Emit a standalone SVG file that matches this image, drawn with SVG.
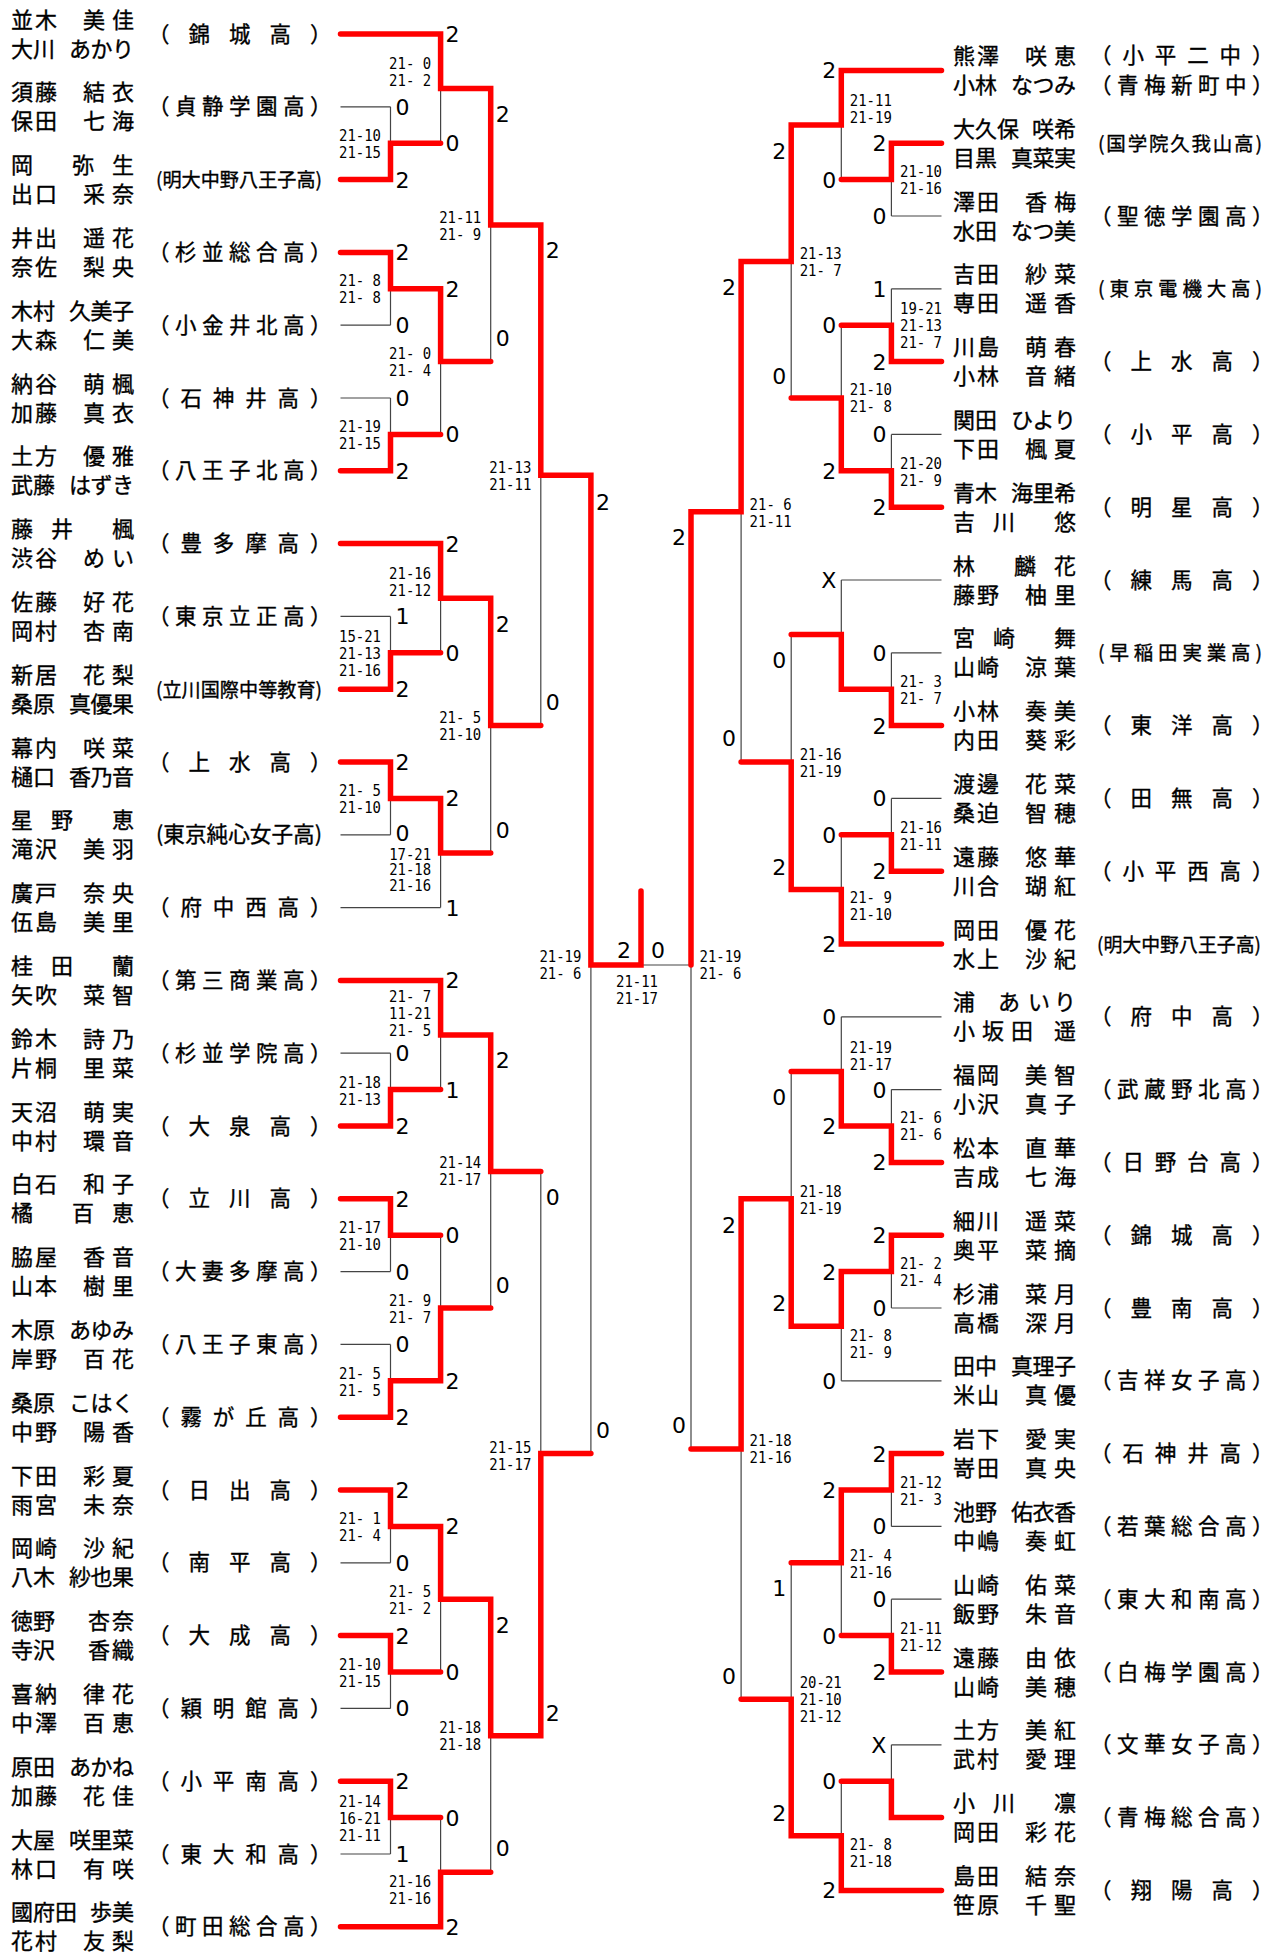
<svg xmlns="http://www.w3.org/2000/svg" width="1270" height="1952" viewBox="0 0 1270 1952">
<style>
.nm{font-family:"Noto Sans CJK JP","Noto Sans CJK SC",sans-serif;font-size:22px;fill:#000;stroke:#000;stroke-width:0.35px}
.lb{font-family:"Noto Sans CJK JP","Noto Sans CJK SC",sans-serif;font-size:21.5px;fill:#000;stroke:#000;stroke-width:0.35px}
.lg{font-family:"Noto Sans CJK JP","Noto Sans CJK SC",sans-serif;font-size:19.5px;fill:#000;stroke:#000;stroke-width:0.35px}
.b{font-family:"DejaVu Sans","Liberation Sans",sans-serif;font-size:22px;fill:#000}
.be{font-family:"DejaVu Sans","Liberation Sans",sans-serif;font-size:22px;fill:#000;text-anchor:end}
.s{font-family:"DejaVu Sans Mono","Liberation Mono",monospace;font-size:16.4px;fill:#000;text-anchor:end}
.ss{font-family:"DejaVu Sans Mono","Liberation Mono",monospace;font-size:16.4px;fill:#000}
.sm{font-family:"DejaVu Sans Mono","Liberation Mono",monospace;font-size:16.4px;fill:#000;text-anchor:middle}
.g{fill:none;stroke:#444;stroke-width:1.2}
.r{fill:none;stroke:#ff0000;stroke-width:5.5;stroke-linecap:round;stroke-linejoin:miter}
</style>
<rect width="1270" height="1952" fill="#fff"/>
<g id="connectors">
<path class="g" d="M340.5 106.8H390.5M340.5 325.2H390.5M340.5 398H390.5M340.5 616.4H390.5M340.5 834.8H390.5M340.5 907.6H440.6M340.5 1053.2H390.5M340.5 1271.6H390.5M340.5 1344.4H390.5M340.5 1562.8H390.5M340.5 1708.4H390.5M340.5 1854H390.5
M390.5 106.8V179.6M390.5 252.4V325.2M390.5 398V470.8M390.5 616.4V689.2M390.5 762V834.8M390.5 1053.2V1126M390.5 1198.8V1271.6M390.5 1344.4V1417.2M390.5 1490V1562.8M390.5 1635.6V1708.4M390.5 1781.2V1854
M440.6 34V143.2M440.6 288.8V434.4M440.6 543.6V652.8M440.6 798.4V907.6M440.6 980.4V1089.6M440.6 1235.2V1380.8M440.6 1526.4V1672M440.6 1817.6V1926.8
M490.7 88.6V361.6M490.7 598.2V853M490.7 1035V1308M490.7 1599.2V1872.2
M540.8 225.1V725.6M540.8 1171.5V1735.7M590.9 475.35V1453.6M641 965H691"/>
<path class="g" d="M941.5 216H891.4M941.5 288.8H891.4M941.5 434.4H891.4M941.5 580H841.3M941.5 652.8H891.4M941.5 798.4H891.4M941.5 1016.8H841.3M941.5 1089.6H891.4M941.5 1308H891.4M941.5 1380.8H841.3M941.5 1526.4H891.4M941.5 1599.2H891.4M941.5 1744.8H891.4
M891.4 143.2V216M891.4 288.8V361.6M891.4 434.4V507.2M891.4 652.8V725.6M891.4 798.4V871.2M891.4 1089.6V1162.4M891.4 1235.2V1308M891.4 1453.6V1526.4M891.4 1599.2V1672M891.4 1744.8V1817.6
M841.3 70.4V179.6M841.3 325.2V470.8M841.3 580V689.2M841.3 834.8V944M841.3 1016.8V1126M841.3 1271.6V1380.8M841.3 1490V1635.6M841.3 1781.2V1890.4
M791.2 125V398M791.2 634.6V889.4M791.2 1071.4V1326.2M791.2 1562.8V1835.8
M741.1 261.5V762M741.1 1198.8V1699.3M691 511.75V1449"/>
<path class="r" d="M340.5 34H440.6V88.6H490.7V225.1H540.8V475.35H590.9V965H641V891"/>
<path class="r" d="M340.5 179.6H390.5V143.2H440.6"/>
<path class="r" d="M340.5 252.4H390.5V288.8H440.6V361.6H490.7"/>
<path class="r" d="M340.5 470.8H390.5V434.4H440.6"/>
<path class="r" d="M340.5 543.6H440.6V598.2H490.7V725.6H540.8"/>
<path class="r" d="M340.5 689.2H390.5V652.8H440.6"/>
<path class="r" d="M340.5 762H390.5V798.4H440.6V853H490.7"/>
<path class="r" d="M340.5 980.4H440.6V1035H490.7V1171.5H540.8"/>
<path class="r" d="M340.5 1126H390.5V1089.6H440.6"/>
<path class="r" d="M340.5 1198.8H390.5V1235.2H440.6"/>
<path class="r" d="M340.5 1417.2H390.5V1380.8H440.6V1308H490.7"/>
<path class="r" d="M340.5 1490H390.5V1526.4H440.6V1599.2H490.7V1735.7H540.8V1453.6H590.9"/>
<path class="r" d="M340.5 1635.6H390.5V1672H440.6"/>
<path class="r" d="M340.5 1781.2H390.5V1817.6H440.6"/>
<path class="r" d="M340.5 1926.8H440.6V1872.2H490.7"/>
<path class="r" d="M941.5 70.4H841.3V125H791.2V261.5H741.1V511.75H691V965"/>
<path class="r" d="M941.5 143.2H891.4V179.6H841.3"/>
<path class="r" d="M941.5 361.6H891.4V325.2H841.3"/>
<path class="r" d="M941.5 507.2H891.4V470.8H841.3V398H791.2"/>
<path class="r" d="M941.5 725.6H891.4V689.2H841.3V634.6H791.2"/>
<path class="r" d="M941.5 871.2H891.4V834.8H841.3"/>
<path class="r" d="M941.5 944H841.3V889.4H791.2V762H741.1"/>
<path class="r" d="M941.5 1162.4H891.4V1126H841.3V1071.4H791.2"/>
<path class="r" d="M941.5 1235.2H891.4V1271.6H841.3V1326.2H791.2V1198.8H741.1V1449H691"/>
<path class="r" d="M941.5 1453.6H891.4V1490H841.3V1562.8H791.2"/>
<path class="r" d="M941.5 1672H891.4V1635.6H841.3"/>
<path class="r" d="M941.5 1817.6H891.4V1781.2H841.3"/>
<path class="r" d="M941.5 1890.4H841.3V1835.8H791.2V1699.3H741.1"/>
</g>
<g id="scores">
<text class="b" x="395.5" y="114.8">0</text><text class="b" x="395.5" y="187.6">2</text><text class="b" x="395.5" y="260.4">2</text><text class="b" x="395.5" y="333.2">0</text><text class="b" x="395.5" y="406">0</text><text class="b" x="395.5" y="478.8">2</text><text class="b" x="395.5" y="624.4">1</text><text class="b" x="395.5" y="697.2">2</text><text class="b" x="395.5" y="770">2</text><text class="b" x="395.5" y="840.8">0</text><text class="b" x="395.5" y="1061.2">0</text><text class="b" x="395.5" y="1134">2</text><text class="b" x="395.5" y="1206.8">2</text><text class="b" x="395.5" y="1279.6">0</text><text class="b" x="395.5" y="1352.4">0</text><text class="b" x="395.5" y="1425.2">2</text><text class="b" x="395.5" y="1498">2</text><text class="b" x="395.5" y="1570.8">0</text><text class="b" x="395.5" y="1643.6">2</text><text class="b" x="395.5" y="1716.4">0</text><text class="b" x="395.5" y="1789.2">2</text><text class="b" x="395.5" y="1862">1</text>
<text class="b" x="445.6" y="42">2</text><text class="b" x="445.6" y="151.2">0</text><text class="b" x="445.6" y="296.8">2</text><text class="b" x="445.6" y="442.4">0</text><text class="b" x="445.6" y="551.6">2</text><text class="b" x="445.6" y="660.8">0</text><text class="b" x="445.6" y="806.4">2</text><text class="b" x="445.6" y="915.6">1</text><text class="b" x="445.6" y="988.4">2</text><text class="b" x="445.6" y="1097.6">1</text><text class="b" x="445.6" y="1243.2">0</text><text class="b" x="445.6" y="1388.8">2</text><text class="b" x="445.6" y="1534.4">2</text><text class="b" x="445.6" y="1680">0</text><text class="b" x="445.6" y="1825.6">0</text><text class="b" x="445.6" y="1934.8">2</text>
<text class="b" x="495.7" y="122">2</text><text class="b" x="495.7" y="346">0</text><text class="b" x="495.7" y="632">2</text><text class="b" x="495.7" y="838">0</text><text class="b" x="495.7" y="1068">2</text><text class="b" x="495.7" y="1293">0</text><text class="b" x="495.7" y="1633">2</text><text class="b" x="495.7" y="1856">0</text>
<text class="b" x="545.8" y="258">2</text><text class="b" x="545.8" y="710">0</text><text class="b" x="545.8" y="1205">0</text><text class="b" x="545.8" y="1721">2</text>
<text class="b" x="595.9" y="510">2</text><text class="b" x="595.9" y="1438">0</text>
<text class="be" x="631" y="958">2</text><text class="b" x="651" y="958">0</text>
<text class="be" x="886.4" y="151.2">2</text><text class="be" x="886.4" y="224">0</text><text class="be" x="886.4" y="296.8">1</text><text class="be" x="886.4" y="369.6">2</text><text class="be" x="886.4" y="442.4">0</text><text class="be" x="886.4" y="515.2">2</text><text class="be" x="886.4" y="660.8">0</text><text class="be" x="886.4" y="733.6">2</text><text class="be" x="886.4" y="806.4">0</text><text class="be" x="886.4" y="879.2">2</text><text class="be" x="886.4" y="1097.6">0</text><text class="be" x="886.4" y="1170.4">2</text><text class="be" x="886.4" y="1243.2">2</text><text class="be" x="886.4" y="1316">0</text><text class="be" x="886.4" y="1461.6">2</text><text class="be" x="886.4" y="1534.4">0</text><text class="be" x="886.4" y="1607.2">0</text><text class="be" x="886.4" y="1680">2</text><text class="be" x="886.4" y="1752.8">X</text>
<text class="be" x="836.3" y="78.4">2</text><text class="be" x="836.3" y="187.6">0</text><text class="be" x="836.3" y="333.2">0</text><text class="be" x="836.3" y="478.8">2</text><text class="be" x="836.3" y="588">X</text><text class="be" x="836.3" y="842.8">0</text><text class="be" x="836.3" y="952">2</text><text class="be" x="836.3" y="1024.8">0</text><text class="be" x="836.3" y="1134">2</text><text class="be" x="836.3" y="1279.6">2</text><text class="be" x="836.3" y="1388.8">0</text><text class="be" x="836.3" y="1498">2</text><text class="be" x="836.3" y="1643.6">0</text><text class="be" x="836.3" y="1789.2">0</text><text class="be" x="836.3" y="1898.4">2</text>
<text class="be" x="786.2" y="159">2</text><text class="be" x="786.2" y="384">0</text><text class="be" x="786.2" y="668">0</text><text class="be" x="786.2" y="875">2</text><text class="be" x="786.2" y="1105">0</text><text class="be" x="786.2" y="1311">2</text><text class="be" x="786.2" y="1596">1</text><text class="be" x="786.2" y="1821">2</text>
<text class="be" x="736.1" y="295">2</text><text class="be" x="736.1" y="746">0</text><text class="be" x="736.1" y="1233">2</text><text class="be" x="736.1" y="1684">0</text>
<text class="be" x="686" y="545">2</text><text class="be" x="686" y="1433">0</text>
</g>
<g id="setscores">
<text class="s" transform="translate(381,0) scale(0.851,1)"><tspan x="0" y="141.5">21-10</tspan><tspan x="0" y="158.5">21-15</tspan></text>
<text class="s" transform="translate(381,0) scale(0.851,1)"><tspan x="0" y="286.5">21- 8</tspan><tspan x="0" y="303.5">21- 8</tspan></text>
<text class="s" transform="translate(381,0) scale(0.851,1)"><tspan x="0" y="432.5">21-19</tspan><tspan x="0" y="449.5">21-15</tspan></text>
<text class="s" transform="translate(381,0) scale(0.851,1)"><tspan x="0" y="642.5">15-21</tspan><tspan x="0" y="659.5">21-13</tspan><tspan x="0" y="676.5">21-16</tspan></text>
<text class="s" transform="translate(381,0) scale(0.851,1)"><tspan x="0" y="796.5">21- 5</tspan><tspan x="0" y="813.5">21-10</tspan></text>
<text class="s" transform="translate(381,0) scale(0.851,1)"><tspan x="0" y="1087.75">21-18</tspan><tspan x="0" y="1104.75">21-13</tspan></text>
<text class="s" transform="translate(381,0) scale(0.851,1)"><tspan x="0" y="1233">21-17</tspan><tspan x="0" y="1250">21-10</tspan></text>
<text class="s" transform="translate(381,0) scale(0.851,1)"><tspan x="0" y="1379">21- 5</tspan><tspan x="0" y="1396">21- 5</tspan></text>
<text class="s" transform="translate(381,0) scale(0.851,1)"><tspan x="0" y="1524.5">21- 1</tspan><tspan x="0" y="1541.5">21- 4</tspan></text>
<text class="s" transform="translate(381,0) scale(0.851,1)"><tspan x="0" y="1670.5">21-10</tspan><tspan x="0" y="1687.5">21-15</tspan></text>
<text class="s" transform="translate(381,0) scale(0.851,1)"><tspan x="0" y="1807.5">21-14</tspan><tspan x="0" y="1824.5">16-21</tspan><tspan x="0" y="1841.5">21-11</tspan></text>
<text class="s" transform="translate(431.1,0) scale(0.851,1)"><tspan x="0" y="69.5">21- 0</tspan><tspan x="0" y="86.5">21- 2</tspan></text>
<text class="s" transform="translate(431.1,0) scale(0.851,1)"><tspan x="0" y="359.5">21- 0</tspan><tspan x="0" y="376.5">21- 4</tspan></text>
<text class="s" transform="translate(431.1,0) scale(0.851,1)"><tspan x="0" y="579">21-16</tspan><tspan x="0" y="596">21-12</tspan></text>
<text class="s" style="font-size:15px" transform="translate(431.1,0) scale(0.93,1)"><tspan x="0" y="860">17-21</tspan><tspan x="0" y="875.5">21-18</tspan><tspan x="0" y="891">21-16</tspan></text>
<text class="s" transform="translate(431.1,0) scale(0.851,1)"><tspan x="0" y="1002.5">21- 7</tspan><tspan x="0" y="1019.5">11-21</tspan><tspan x="0" y="1036.5">21- 5</tspan></text>
<text class="s" transform="translate(431.1,0) scale(0.851,1)"><tspan x="0" y="1306.5">21- 9</tspan><tspan x="0" y="1323.5">21- 7</tspan></text>
<text class="s" transform="translate(431.1,0) scale(0.851,1)"><tspan x="0" y="1597">21- 5</tspan><tspan x="0" y="1614">21- 2</tspan></text>
<text class="s" transform="translate(431.1,0) scale(0.851,1)"><tspan x="0" y="1887">21-16</tspan><tspan x="0" y="1904">21-16</tspan></text>
<text class="s" transform="translate(481.2,0) scale(0.851,1)"><tspan x="0" y="223">21-11</tspan><tspan x="0" y="240">21- 9</tspan></text>
<text class="s" transform="translate(481.2,0) scale(0.851,1)"><tspan x="0" y="723.5">21- 5</tspan><tspan x="0" y="740.5">21-10</tspan></text>
<text class="s" transform="translate(481.2,0) scale(0.851,1)"><tspan x="0" y="1168.5">21-14</tspan><tspan x="0" y="1185.5">21-17</tspan></text>
<text class="s" transform="translate(481.2,0) scale(0.851,1)"><tspan x="0" y="1733.5">21-18</tspan><tspan x="0" y="1750.5">21-18</tspan></text>
<text class="s" transform="translate(531.3,0) scale(0.851,1)"><tspan x="0" y="473">21-13</tspan><tspan x="0" y="490">21-11</tspan></text>
<text class="s" transform="translate(531.3,0) scale(0.851,1)"><tspan x="0" y="1453">21-15</tspan><tspan x="0" y="1470">21-17</tspan></text>
<text class="s" transform="translate(581.4,0) scale(0.851,1)"><tspan x="0" y="962.5">21-19</tspan><tspan x="0" y="979.5">21- 6</tspan></text>
<text class="sm" transform="translate(637,0) scale(0.851,1)"><tspan x="0" y="987">21-11</tspan><tspan x="0" y="1004">21-17</tspan></text>
<text class="ss" transform="translate(699.5,0) scale(0.851,1)"><tspan x="0" y="962.5">21-19</tspan><tspan x="0" y="979.5">21- 6</tspan></text>
<text class="ss" transform="translate(749.6,0) scale(0.851,1)"><tspan x="0" y="510">21- 6</tspan><tspan x="0" y="527">21-11</tspan></text>
<text class="ss" transform="translate(749.6,0) scale(0.851,1)"><tspan x="0" y="1446.5">21-18</tspan><tspan x="0" y="1463.5">21-16</tspan></text>
<text class="ss" transform="translate(799.7,0) scale(0.851,1)"><tspan x="0" y="259">21-13</tspan><tspan x="0" y="276">21- 7</tspan></text>
<text class="ss" transform="translate(799.7,0) scale(0.851,1)"><tspan x="0" y="760.5">21-16</tspan><tspan x="0" y="777.5">21-19</tspan></text>
<text class="ss" transform="translate(799.7,0) scale(0.851,1)"><tspan x="0" y="1197">21-18</tspan><tspan x="0" y="1214">21-19</tspan></text>
<text class="ss" transform="translate(799.7,0) scale(0.851,1)"><tspan x="0" y="1688.5">20-21</tspan><tspan x="0" y="1705.5">21-10</tspan><tspan x="0" y="1722.5">21-12</tspan></text>
<text class="ss" transform="translate(849.8,0) scale(0.851,1)"><tspan x="0" y="106.5">21-11</tspan><tspan x="0" y="123.5">21-19</tspan></text>
<text class="ss" transform="translate(849.8,0) scale(0.851,1)"><tspan x="0" y="395.5">21-10</tspan><tspan x="0" y="412.5">21- 8</tspan></text>
<text class="ss" transform="translate(849.8,0) scale(0.851,1)"><tspan x="0" y="903.5">21- 9</tspan><tspan x="0" y="920.5">21-10</tspan></text>
<text class="ss" transform="translate(849.8,0) scale(0.851,1)"><tspan x="0" y="1053">21-19</tspan><tspan x="0" y="1070">21-17</tspan></text>
<text class="ss" transform="translate(849.8,0) scale(0.851,1)"><tspan x="0" y="1341.5">21- 8</tspan><tspan x="0" y="1358.5">21- 9</tspan></text>
<text class="ss" transform="translate(849.8,0) scale(0.851,1)"><tspan x="0" y="1561">21- 4</tspan><tspan x="0" y="1578">21-16</tspan></text>
<text class="ss" transform="translate(849.8,0) scale(0.851,1)"><tspan x="0" y="1850.5">21- 8</tspan><tspan x="0" y="1867.5">21-18</tspan></text>
<text class="ss" transform="translate(900,0) scale(0.851,1)"><tspan x="0" y="177">21-10</tspan><tspan x="0" y="194">21-16</tspan></text>
<text class="ss" transform="translate(900,0) scale(0.851,1)"><tspan x="0" y="314.5">19-21</tspan><tspan x="0" y="331.5">21-13</tspan><tspan x="0" y="348.5">21- 7</tspan></text>
<text class="ss" transform="translate(900,0) scale(0.851,1)"><tspan x="0" y="469">21-20</tspan><tspan x="0" y="486">21- 9</tspan></text>
<text class="ss" transform="translate(900,0) scale(0.851,1)"><tspan x="0" y="687.5">21- 3</tspan><tspan x="0" y="704.5">21- 7</tspan></text>
<text class="ss" transform="translate(900,0) scale(0.851,1)"><tspan x="0" y="833">21-16</tspan><tspan x="0" y="850">21-11</tspan></text>
<text class="ss" transform="translate(900,0) scale(0.851,1)"><tspan x="0" y="1123.5">21- 6</tspan><tspan x="0" y="1140.5">21- 6</tspan></text>
<text class="ss" transform="translate(900,0) scale(0.851,1)"><tspan x="0" y="1269.5">21- 2</tspan><tspan x="0" y="1286.5">21- 4</tspan></text>
<text class="ss" transform="translate(900,0) scale(0.851,1)"><tspan x="0" y="1488">21-12</tspan><tspan x="0" y="1505">21- 3</tspan></text>
<text class="ss" transform="translate(900,0) scale(0.851,1)"><tspan x="0" y="1634">21-11</tspan><tspan x="0" y="1651">21-12</tspan></text>
</g>
<g id="L00" transform="translate(0,34)"><text class="nm" x="11 35 83 112" y="-6.5">並木美佳</text><text class="nm" x="11 33 69 90.5 112" y="22.5">大川あかり</text><text class="lb" x="148 188.5 229 269.5 310" y="7.5">（錦城高）</text></g>
<g id="L01" transform="translate(0,106.8)"><text class="nm" x="11 35 83 112" y="-6.5">須藤結衣</text><text class="nm" x="11 35 83 112" y="22.5">保田七海</text><text class="lb" x="148 175 202 229 256 283 310" y="7.5">（貞静学園高）</text></g>
<g id="L02" transform="translate(0,179.6)"><text class="nm" x="11 72 112" y="-6.5">岡弥生</text><text class="nm" x="11 35 83 112" y="22.5">出口采奈</text><text class="lg" x="156" y="7.5" textLength="166" lengthAdjust="spacingAndGlyphs">(明大中野八王子高)</text></g>
<g id="L03" transform="translate(0,252.4)"><text class="nm" x="11 35 83 112" y="-6.5">井出遥花</text><text class="nm" x="11 35 83 112" y="22.5">奈佐梨央</text><text class="lb" x="148 175 202 229 256 283 310" y="7.5">（杉並総合高）</text></g>
<g id="L04" transform="translate(0,325.2)"><text class="nm" x="11 33 69 90.5 112" y="-6.5">木村久美子</text><text class="nm" x="11 35 83 112" y="22.5">大森仁美</text><text class="lb" x="148 175 202 229 256 283 310" y="7.5">（小金井北高）</text></g>
<g id="L05" transform="translate(0,398)"><text class="nm" x="11 35 83 112" y="-6.5">納谷萌楓</text><text class="nm" x="11 35 83 112" y="22.5">加藤真衣</text><text class="lb" x="148 180.4 212.8 245.2 277.6 310" y="7.5">（石神井高）</text></g>
<g id="L06" transform="translate(0,470.8)"><text class="nm" x="11 35 83 112" y="-6.5">土方優雅</text><text class="nm" x="11 33 69 90.5 112" y="22.5">武藤はずき</text><text class="lb" x="148 175 202 229 256 283 310" y="7.5">（八王子北高）</text></g>
<g id="L07" transform="translate(0,543.6)"><text class="nm" x="11 51 112" y="-6.5">藤井楓</text><text class="nm" x="11 35 83 112" y="22.5">渋谷めい</text><text class="lb" x="148 180.4 212.8 245.2 277.6 310" y="7.5">（豊多摩高）</text></g>
<g id="L08" transform="translate(0,616.4)"><text class="nm" x="11 35 83 112" y="-6.5">佐藤好花</text><text class="nm" x="11 35 83 112" y="22.5">岡村杏南</text><text class="lb" x="148 175 202 229 256 283 310" y="7.5">（東京立正高）</text></g>
<g id="L09" transform="translate(0,689.2)"><text class="nm" x="11 35 83 112" y="-6.5">新居花梨</text><text class="nm" x="11 33 69 90.5 112" y="22.5">桑原真優果</text><text class="lg" x="156" y="7.5" textLength="166" lengthAdjust="spacingAndGlyphs">(立川国際中等教育)</text></g>
<g id="L10" transform="translate(0,762)"><text class="nm" x="11 35 83 112" y="-6.5">幕内咲菜</text><text class="nm" x="11 33 69 90.5 112" y="22.5">樋口香乃音</text><text class="lb" x="148 188.5 229 269.5 310" y="7.5">（上水高）</text></g>
<g id="L11" transform="translate(0,834.8)"><text class="nm" x="11 51 112" y="-6.5">星野恵</text><text class="nm" x="11 35 83 112" y="22.5">滝沢美羽</text><text class="lb" x="156" y="7.5" textLength="166" lengthAdjust="spacingAndGlyphs">(東京純心女子高)</text></g>
<g id="L12" transform="translate(0,907.6)"><text class="nm" x="11 35 83 112" y="-6.5">廣戸奈央</text><text class="nm" x="11 35 83 112" y="22.5">伍島美里</text><text class="lb" x="148 180.4 212.8 245.2 277.6 310" y="7.5">（府中西高）</text></g>
<g id="L13" transform="translate(0,980.4)"><text class="nm" x="11 51 112" y="-6.5">桂田蘭</text><text class="nm" x="11 35 83 112" y="22.5">矢吹菜智</text><text class="lb" x="148 175 202 229 256 283 310" y="7.5">（第三商業高）</text></g>
<g id="L14" transform="translate(0,1053.2)"><text class="nm" x="11 35 83 112" y="-6.5">鈴木詩乃</text><text class="nm" x="11 35 83 112" y="22.5">片桐里菜</text><text class="lb" x="148 175 202 229 256 283 310" y="7.5">（杉並学院高）</text></g>
<g id="L15" transform="translate(0,1126)"><text class="nm" x="11 35 83 112" y="-6.5">天沼萌実</text><text class="nm" x="11 35 83 112" y="22.5">中村環音</text><text class="lb" x="148 188.5 229 269.5 310" y="7.5">（大泉高）</text></g>
<g id="L16" transform="translate(0,1198.8)"><text class="nm" x="11 35 83 112" y="-6.5">白石和子</text><text class="nm" x="11 72 112" y="22.5">橘百恵</text><text class="lb" x="148 188.5 229 269.5 310" y="7.5">（立川高）</text></g>
<g id="L17" transform="translate(0,1271.6)"><text class="nm" x="11 35 83 112" y="-6.5">脇屋香音</text><text class="nm" x="11 35 83 112" y="22.5">山本樹里</text><text class="lb" x="148 175 202 229 256 283 310" y="7.5">（大妻多摩高）</text></g>
<g id="L18" transform="translate(0,1344.4)"><text class="nm" x="11 33 69 90.5 112" y="-6.5">木原あゆみ</text><text class="nm" x="11 35 83 112" y="22.5">岸野百花</text><text class="lb" x="148 175 202 229 256 283 310" y="7.5">（八王子東高）</text></g>
<g id="L19" transform="translate(0,1417.2)"><text class="nm" x="11 33 69 90.5 112" y="-6.5">桑原こはく</text><text class="nm" x="11 35 83 112" y="22.5">中野陽香</text><text class="lb" x="148 180.4 212.8 245.2 277.6 310" y="7.5">（霧が丘高）</text></g>
<g id="L20" transform="translate(0,1490)"><text class="nm" x="11 35 83 112" y="-6.5">下田彩夏</text><text class="nm" x="11 35 83 112" y="22.5">雨宮未奈</text><text class="lb" x="148 188.5 229 269.5 310" y="7.5">（日出高）</text></g>
<g id="L21" transform="translate(0,1562.8)"><text class="nm" x="11 35 83 112" y="-6.5">岡崎沙紀</text><text class="nm" x="11 33 69 90.5 112" y="22.5">八木紗也果</text><text class="lb" x="148 188.5 229 269.5 310" y="7.5">（南平高）</text></g>
<g id="L22" transform="translate(0,1635.6)"><text class="nm" x="11 33 88 112" y="-6.5">徳野杏奈</text><text class="nm" x="11 33 88 112" y="22.5">寺沢香織</text><text class="lb" x="148 188.5 229 269.5 310" y="7.5">（大成高）</text></g>
<g id="L23" transform="translate(0,1708.4)"><text class="nm" x="11 35 83 112" y="-6.5">喜納律花</text><text class="nm" x="11 35 83 112" y="22.5">中澤百恵</text><text class="lb" x="148 180.4 212.8 245.2 277.6 310" y="7.5">（穎明館高）</text></g>
<g id="L24" transform="translate(0,1781.2)"><text class="nm" x="11 33 69 90.5 112" y="-6.5">原田あかね</text><text class="nm" x="11 35 83 112" y="22.5">加藤花佳</text><text class="lb" x="148 180.4 212.8 245.2 277.6 310" y="7.5">（小平南高）</text></g>
<g id="L25" transform="translate(0,1854)"><text class="nm" x="11 33 69 90.5 112" y="-6.5">大屋咲里菜</text><text class="nm" x="11 35 83 112" y="22.5">林口有咲</text><text class="lb" x="148 180.4 212.8 245.2 277.6 310" y="7.5">（東大和高）</text></g>
<g id="L26" transform="translate(0,1926.8)"><text class="nm" x="11 33 55 90 112" y="-6.5">國府田歩美</text><text class="nm" x="11 35 83 112" y="22.5">花村友梨</text><text class="lb" x="148 175 202 229 256 283 310" y="7.5">（町田総合高）</text></g>
<g id="R00" transform="translate(942,70.4)"><text class="nm" x="11 35 83 112" y="-6.5">熊澤咲恵</text><text class="nm" x="11 33 69 90.5 112" y="22.5">小林なつみ</text><text class="lb" x="148 180.4 212.8 245.2 277.6 310" y="-7">（小平二中）</text><text class="lb" x="148 175 202 229 256 283 310" y="22.5">（青梅新町中）</text></g>
<g id="R01" transform="translate(942,143.2)"><text class="nm" x="11 33 55 90 112" y="-6.5">大久保咲希</text><text class="nm" x="11 33 69 90.5 112" y="22.5">目黒真菜実</text><text class="lg" x="156" y="7.5" textLength="164" lengthAdjust="spacing">(国学院久我山高)</text></g>
<g id="R02" transform="translate(942,216)"><text class="nm" x="11 35 83 112" y="-6.5">澤田香梅</text><text class="nm" x="11 33 69 90.5 112" y="22.5">水田なつ美</text><text class="lb" x="148 175 202 229 256 283 310" y="7.5">（聖徳学園高）</text></g>
<g id="R03" transform="translate(942,288.8)"><text class="nm" x="11 35 83 112" y="-6.5">吉田紗菜</text><text class="nm" x="11 35 83 112" y="22.5">専田遥香</text><text class="lg" x="156" y="7.5" textLength="164" lengthAdjust="spacing">(東京電機大高)</text></g>
<g id="R04" transform="translate(942,361.6)"><text class="nm" x="11 35 83 112" y="-6.5">川島萌春</text><text class="nm" x="11 35 83 112" y="22.5">小林音緒</text><text class="lb" x="148 188.5 229 269.5 310" y="7.5">（上水高）</text></g>
<g id="R05" transform="translate(942,434.4)"><text class="nm" x="11 33 69 90.5 112" y="-6.5">関田ひより</text><text class="nm" x="11 35 83 112" y="22.5">下田楓夏</text><text class="lb" x="148 188.5 229 269.5 310" y="7.5">（小平高）</text></g>
<g id="R06" transform="translate(942,507.2)"><text class="nm" x="11 33 69 90.5 112" y="-6.5">青木海里希</text><text class="nm" x="11 51 112" y="22.5">吉川悠</text><text class="lb" x="148 188.5 229 269.5 310" y="7.5">（明星高）</text></g>
<g id="R07" transform="translate(942,580)"><text class="nm" x="11 72 112" y="-6.5">林麟花</text><text class="nm" x="11 35 83 112" y="22.5">藤野柚里</text><text class="lb" x="148 188.5 229 269.5 310" y="7.5">（練馬高）</text></g>
<g id="R08" transform="translate(942,652.8)"><text class="nm" x="11 51 112" y="-6.5">宮崎舞</text><text class="nm" x="11 35 83 112" y="22.5">山崎涼葉</text><text class="lg" x="156" y="7.5" textLength="164" lengthAdjust="spacing">(早稲田実業高)</text></g>
<g id="R09" transform="translate(942,725.6)"><text class="nm" x="11 35 83 112" y="-6.5">小林奏美</text><text class="nm" x="11 35 83 112" y="22.5">内田葵彩</text><text class="lb" x="148 188.5 229 269.5 310" y="7.5">（東洋高）</text></g>
<g id="R10" transform="translate(942,798.4)"><text class="nm" x="11 35 83 112" y="-6.5">渡邊花菜</text><text class="nm" x="11 35 83 112" y="22.5">桑迫智穂</text><text class="lb" x="148 188.5 229 269.5 310" y="7.5">（田無高）</text></g>
<g id="R11" transform="translate(942,871.2)"><text class="nm" x="11 35 83 112" y="-6.5">遠藤悠華</text><text class="nm" x="11 35 83 112" y="22.5">川合瑚紅</text><text class="lb" x="148 180.4 212.8 245.2 277.6 310" y="7.5">（小平西高）</text></g>
<g id="R12" transform="translate(942,944)"><text class="nm" x="11 35 83 112" y="-6.5">岡田優花</text><text class="nm" x="11 35 83 112" y="22.5">水上沙紀</text><text class="lg" x="155" y="7.5" textLength="164" lengthAdjust="spacingAndGlyphs">(明大中野八王子高)</text></g>
<g id="R13" transform="translate(942,1016.8)"><text class="nm" x="11 56 86 112" y="-6.5">浦あいり</text><text class="nm" x="11 40 69 112" y="22.5">小坂田遥</text><text class="lb" x="148 188.5 229 269.5 310" y="7.5">（府中高）</text></g>
<g id="R14" transform="translate(942,1089.6)"><text class="nm" x="11 35 83 112" y="-6.5">福岡美智</text><text class="nm" x="11 35 83 112" y="22.5">小沢真子</text><text class="lb" x="148 175 202 229 256 283 310" y="7.5">（武蔵野北高）</text></g>
<g id="R15" transform="translate(942,1162.4)"><text class="nm" x="11 35 83 112" y="-6.5">松本直華</text><text class="nm" x="11 35 83 112" y="22.5">吉成七海</text><text class="lb" x="148 180.4 212.8 245.2 277.6 310" y="7.5">（日野台高）</text></g>
<g id="R16" transform="translate(942,1235.2)"><text class="nm" x="11 35 83 112" y="-6.5">細川遥菜</text><text class="nm" x="11 35 83 112" y="22.5">奥平菜摘</text><text class="lb" x="148 188.5 229 269.5 310" y="7.5">（錦城高）</text></g>
<g id="R17" transform="translate(942,1308)"><text class="nm" x="11 35 83 112" y="-6.5">杉浦菜月</text><text class="nm" x="11 35 83 112" y="22.5">高橋深月</text><text class="lb" x="148 188.5 229 269.5 310" y="7.5">（豊南高）</text></g>
<g id="R18" transform="translate(942,1380.8)"><text class="nm" x="11 33 69 90.5 112" y="-6.5">田中真理子</text><text class="nm" x="11 35 83 112" y="22.5">米山真優</text><text class="lb" x="148 175 202 229 256 283 310" y="7.5">（吉祥女子高）</text></g>
<g id="R19" transform="translate(942,1453.6)"><text class="nm" x="11 35 83 112" y="-6.5">岩下愛実</text><text class="nm" x="11 35 83 112" y="22.5">嵜田真央</text><text class="lb" x="148 180.4 212.8 245.2 277.6 310" y="7.5">（石神井高）</text></g>
<g id="R20" transform="translate(942,1526.4)"><text class="nm" x="11 33 69 90.5 112" y="-6.5">池野佑衣香</text><text class="nm" x="11 35 83 112" y="22.5">中嶋奏虹</text><text class="lb" x="148 175 202 229 256 283 310" y="7.5">（若葉総合高）</text></g>
<g id="R21" transform="translate(942,1599.2)"><text class="nm" x="11 35 83 112" y="-6.5">山崎佑菜</text><text class="nm" x="11 35 83 112" y="22.5">飯野朱音</text><text class="lb" x="148 175 202 229 256 283 310" y="7.5">（東大和南高）</text></g>
<g id="R22" transform="translate(942,1672)"><text class="nm" x="11 35 83 112" y="-6.5">遠藤由依</text><text class="nm" x="11 35 83 112" y="22.5">山崎美穂</text><text class="lb" x="148 175 202 229 256 283 310" y="7.5">（白梅学園高）</text></g>
<g id="R23" transform="translate(942,1744.8)"><text class="nm" x="11 35 83 112" y="-6.5">土方美紅</text><text class="nm" x="11 35 83 112" y="22.5">武村愛理</text><text class="lb" x="148 175 202 229 256 283 310" y="7.5">（文華女子高）</text></g>
<g id="R24" transform="translate(942,1817.6)"><text class="nm" x="11 51 112" y="-6.5">小川凛</text><text class="nm" x="11 35 83 112" y="22.5">岡田彩花</text><text class="lb" x="148 175 202 229 256 283 310" y="7.5">（青梅総合高）</text></g>
<g id="R25" transform="translate(942,1890.4)"><text class="nm" x="11 35 83 112" y="-6.5">島田結奈</text><text class="nm" x="11 35 83 112" y="22.5">笹原千聖</text><text class="lb" x="148 188.5 229 269.5 310" y="7.5">（翔陽高）</text></g>
</svg>
